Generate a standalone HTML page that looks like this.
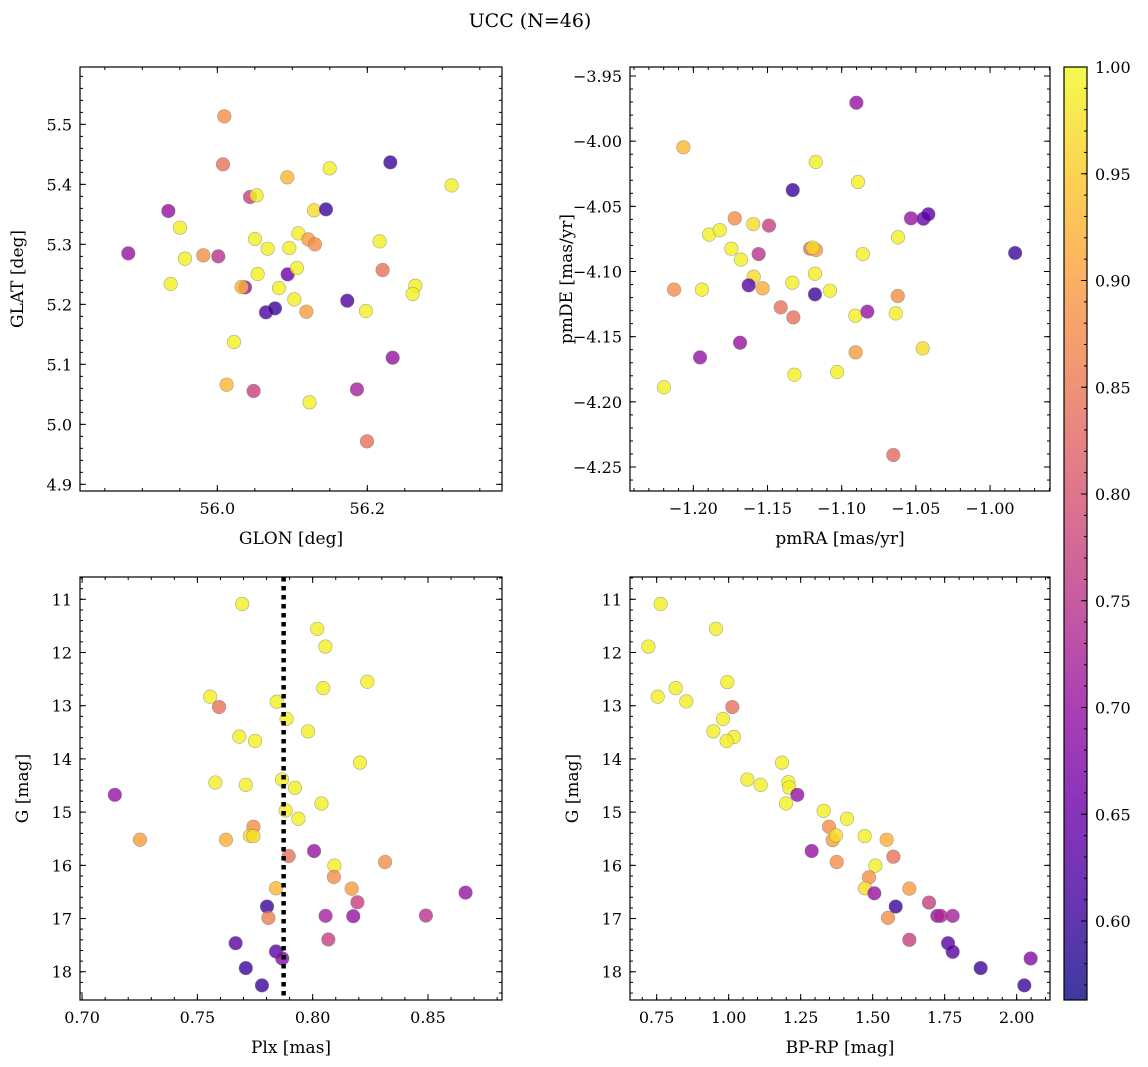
<!DOCTYPE html>
<html><head><meta charset="utf-8"><style>
html,body{margin:0;padding:0;background:#fff;}
svg{display:block;font-family:"DejaVu Serif","Liberation Serif",serif;}
</style></head><body>
<svg id="fig" xmlns="http://www.w3.org/2000/svg" width="1148" height="1067" viewBox="0 0 1148 1067">
<rect width="1148" height="1067" fill="#fff"/>
<text x="530" y="27" font-size="19" text-anchor="middle">UCC (N=46)</text>
<defs><linearGradient id="cbg" x1="0" y1="1" x2="0" y2="0"></linearGradient></defs>
</svg>
<script>
// ---- Panel 1 data: GLON / GLAT ----
const glon=[56.0093,56.0076,56.2307,56.1498,56.0933,56.3124,56.0436,56.0524,55.9347,56.1289,56.1449,55.9502,56.0502,56.108,56.1213,56.1302,56.2164,55.8813,55.9569,55.9813,56.0013,56.0671,56.096,56.0538,56.0938,56.1062,56.2204,55.9378,56.0369,56.0324,56.0822,56.264,56.2604,56.1027,56.1733,56.0649,56.0769,56.1187,56.1982,56.0222,56.2338,56.0124,56.0484,56.1862,56.1231,56.1996];
const glat=[5.5133,5.4333,5.4367,5.4267,5.4117,5.3983,5.3789,5.3817,5.3556,5.3567,5.3583,5.3278,5.3089,5.3183,5.3083,5.3,5.305,5.285,5.2761,5.2817,5.28,5.2928,5.2939,5.2506,5.25,5.2606,5.2572,5.2339,5.2283,5.2289,5.2272,5.2311,5.2172,5.2083,5.2061,5.1867,5.1933,5.1878,5.1889,5.1372,5.1111,5.0661,5.0556,5.0583,5.0367,4.9717];
const prob1=[.88,.84,.60,.99,.93,.99,.77,.99,.70,.97,.60,.99,.99,.99,.90,.88,.99,.70,.99,.88,.75,.99,.99,.99,.65,.99,.84,.99,.70,.93,.99,.99,.99,.99,.62,.62,.60,.90,.99,.99,.70,.93,.77,.72,.99,.84];
// ---- Panel 2 data: pmRA / pmDE ----
const pmra=[-1.0901,-1.2067,-1.1175,-1.089,-1.133,-1.1721,-1.1596,-1.149,-1.1894,-1.1822,-1.0533,-1.0449,-1.0416,-1.062,-1.1744,-1.1679,-1.156,-1.1213,-1.1173,-1.1196,-1.0858,-1.118,-1.1593,-1.1627,-1.1533,-1.1333,-1.213,-1.1942,-1.118,-1.1079,-1.0622,-1.1411,-1.1326,-1.0908,-1.0827,-1.0636,-1.1685,-1.1955,-1.0906,-1.0454,-1.1319,-1.1031,-1.2198,-1.0652,-0.9831];
const pmde=[-3.9705,-4.0047,-4.016,-4.0313,-4.0375,-4.0592,-4.0636,-4.0648,-4.0717,-4.0682,-4.0592,-4.0595,-4.0561,-4.0738,-4.0825,-4.0909,-4.0866,-4.0825,-4.0835,-4.0817,-4.0866,-4.1017,-4.104,-4.1106,-4.1129,-4.1086,-4.1139,-4.1139,-4.1175,-4.1147,-4.1188,-4.1275,-4.1352,-4.1339,-4.1308,-4.1321,-4.1546,-4.1659,-4.162,-4.159,-4.1792,-4.1771,-4.1889,-4.2408,-4.0858];
const prob2=[.70,.93,.99,.99,.60,.88,.97,.77,.99,.99,.70,.65,.63,.99,.99,.99,.75,.84,.90,.97,.99,.99,.97,.63,.92,.99,.88,.99,.60,.99,.88,.84,.84,.99,.70,.99,.70,.70,.90,.97,.99,.99,.99,.83,.60];
// ---- Panel 3 data: Plx / G ----
const plx=[.7694,.802,.8055,.8237,.8046,.7555,.7594,.7844,.7887,.798,.7682,.775,.8205,.7578,.771,.7867,.7923,.7142,.8038,.7883,.7938,.7743,.7728,.7743,.7251,.7624,.8006,.7896,.8314,.8094,.8092,.7841,.8169,.8663,.8194,.7802,.7808,.8056,.8176,.8491,.7666,.8068,.7841,.7868,.771,.778];
const gmag3=[11.088,11.556,11.888,12.55,12.669,12.831,13.025,12.925,13.25,13.481,13.581,13.663,14.069,14.444,14.488,14.388,14.544,14.675,14.838,14.969,15.125,15.275,15.444,15.45,15.519,15.519,15.731,15.825,15.938,16.006,16.219,16.431,16.438,16.513,16.694,16.775,16.988,16.95,16.956,16.944,17.463,17.394,17.619,17.75,17.931,18.256];
const prob3=[.99,.99,.99,.99,.99,.99,.84,.99,.99,.99,.99,.99,.99,.99,.99,.99,.99,.70,.99,.99,.99,.88,.97,.97,.90,.92,.70,.84,.88,.99,.88,.93,.90,.70,.77,.60,.86,.72,.70,.75,.63,.77,.63,.68,.60,.60];
const plxMedian=[0.7874];
// ---- Panel 4 data: BP-RP / G ----
const bprp=[.7639,.956,.7211,.9954,.7535,.816,.853,1.0127,.9803,.9468,1.0185,.993,1.1852,1.0648,1.1111,1.2072,1.2095,1.2384,1.1991,1.3299,1.4109,1.3484,1.3611,1.3727,1.4722,1.5486,1.2882,1.5718,1.375,1.5093,1.4873,1.4734,1.5058,1.6273,1.6956,1.5799,1.7245,1.7361,1.7778,1.5532,1.6273,1.7616,1.7778,2.0486,1.875,2.0266];
const gmag4=[11.088,11.556,11.888,12.556,12.831,12.669,12.919,13.025,13.25,13.481,13.588,13.663,14.069,14.388,14.488,14.438,14.538,14.675,14.838,14.975,15.125,15.275,15.525,15.4375,15.45,15.519,15.731,15.838,15.938,16.006,16.225,16.431,16.525,16.438,16.7,16.775,16.95,16.95,16.95,16.988,17.4,17.463,17.625,17.75,17.931,18.256];
const prob4=[.99,.99,.99,.99,.99,.99,.99,.84,.99,.99,.99,.99,.99,.99,.99,.99,.99,.70,.99,.99,.99,.88,.90,.97,.99,.92,.70,.84,.88,.99,.88,.97,.70,.90,.77,.60,.70,.73,.72,.88,.77,.63,.63,.68,.60,.60];
// ---- tick labels ----
const p1xTicks=[56.0,56.2], p1yTicks=[4.9,5.0,5.1,5.2,5.3,5.4,5.5];
const p2xTicks=[-1.20,-1.15,-1.10,-1.05,-1.00], p2yTicks=[-3.95,-4.00,-4.05,-4.10,-4.15,-4.20,-4.25];
const p3xTicks=[0.70,0.75,0.80,0.85], p3yTicks=[11,12,13,14,15,16,17,18];
const p4xTicks=[0.75,1.00,1.25,1.50,1.75,2.00], p4yTicks=[11,12,13,14,15,16,17,18];
const cbTicks=[0.60,0.65,0.70,0.75,0.80,0.85,0.90,0.95,1.00];
const cMin=0.563, cMax=1.0;

const NS='http://www.w3.org/2000/svg';
const svg=document.getElementById('fig');
function mk(tag,attrs,parent){const e=document.createElementNS(NS,tag);for(const k in attrs)e.setAttribute(k,attrs[k]);(parent||svg).appendChild(e);return e;}
const plasma=[[13,8,135],[65,4,157],[106,0,168],[143,13,164],[177,42,144],[204,71,120],[225,100,98],[242,132,75],[252,166,54],[252,206,37],[240,249,33]];
function cmap(v){let t=(v-cMin)/(cMax-cMin);t=Math.max(0,Math.min(1,t))*10;const i=Math.min(9,Math.floor(t)),f=t-i;const a=plasma[i],b=plasma[i+1];return 'rgb('+a.map((c,k)=>Math.round(c+(b[k]-c)*f)).join(',')+')';}
function fmt(v,d){return (v<0?'\u2212':'')+Math.abs(v).toFixed(d);}

function panel(o){
  const g=mk('g',{});
  
  
  const X=v=>o.x0+(v-o.xmin)/(o.xmax-o.xmin)*(o.x1-o.x0);
  const Y=o.yinv?v=>o.y0+(v-o.ymin)/(o.ymax-o.ymin)*(o.y1-o.y0):v=>o.y1-(v-o.ymin)/(o.ymax-o.ymin)*(o.y1-o.y0);
  const ax=mk('g',{stroke:'#000','stroke-width':1},g);
  
  
  for(let v=Math.ceil(o.xmin/o.xminor-1e-6)*o.xminor;v<=o.xmax;v+=o.xminor){const px=X(v);mk('line',{x1:px,x2:px,y1:o.y1,y2:o.y1-3},ax);mk('line',{x1:px,x2:px,y1:o.y0,y2:o.y0+3},ax);}
  for(let v=Math.ceil(o.ymin/o.yminor-1e-6)*o.yminor;v<=o.ymax;v+=o.yminor){const py=Y(v);mk('line',{x1:o.x0,x2:o.x0+3,y1:py,y2:py},ax);mk('line',{x1:o.x1,x2:o.x1-3,y1:py,y2:py},ax);}
  o.xt.forEach(v=>{const px=X(v);mk('line',{x1:px,x2:px,y1:o.y1,y2:o.y1-6},ax);mk('line',{x1:px,x2:px,y1:o.y0,y2:o.y0+6},ax);
    const t=mk('text',{x:px,y:o.y1+23,'font-size':16,'text-anchor':'middle'},g);t.textContent=fmt(v,o.xd);
    
    });
  o.yt.forEach(v=>{const py=Y(v);mk('line',{x1:o.x0,x2:o.x0+6,y1:py,y2:py},ax);mk('line',{x1:o.x1,x2:o.x1-6,y1:py,y2:py},ax);
    const t=mk('text',{x:o.x0-8,y:py+6,'font-size':16,'text-anchor':'end'},g);t.textContent=fmt(v,o.yd);
    
    });
  const cp='cp'+o.name;const c=mk('clipPath',{id:cp},g);mk('rect',{x:o.x0,y:o.y0,width:o.x1-o.x0,height:o.y1-o.y0},c);
  const pts=mk('g',{'clip-path':'url(#'+cp+')'},g);
  o.xs.forEach((xv,i)=>{const p=mk('circle',{cx:X(xv),cy:Y(o.ys[i]),r:6.8,fill:cmap(o.cs[i]),'fill-opacity':0.8,stroke:'#777','stroke-opacity':0.6,'stroke-width':0.6},pts);
    
    });
  if(o.vline){o.vline.forEach(v=>{const l=mk('line',{x1:X(v),x2:X(v),y1:o.y0,y2:o.y1,stroke:'#000','stroke-width':4.5,'stroke-dasharray':'4.5 4.5'},pts);
    
    });}
  const fr=mk('rect',{x:o.x0,y:o.y0,width:o.x1-o.x0,height:o.y1-o.y0,fill:'none',stroke:'#000','stroke-width':1.2},g);
  
  
  const xl=mk('text',{x:(o.x0+o.x1)/2,y:o.y1+53,'font-size':17,'text-anchor':'middle'},g);xl.textContent=o.xlab;
  
  
  const yx=o.ylx,yy=(o.y0+o.y1)/2;
  const yl=mk('text',{x:yx,y:yy,'font-size':17,'text-anchor':'middle',transform:'rotate(-90 '+yx+' '+yy+')'},g);yl.textContent=o.ylab;
  
  
}
panel({name:'glon-glat-panel',x0:80,x1:502,y0:67,y1:491,xmin:55.8169,xmax:56.3796,ymin:4.8889,ymax:5.5956,xminor:0.05,yminor:0.02,xt:p1xTicks,yt:p1yTicks,xd:1,yd:1,xs:glon,ys:glat,cs:prob1,xlab:'GLON [deg]',ylab:'GLAT [deg]',ylx:23});
panel({name:'pm-panel',x0:630,x1:1050,y0:67,y1:491,xmin:-1.2427,xmax:-0.9596,ymin:-4.2684,ymax:-3.9431,xminor:0.01,yminor:0.01,xt:p2xTicks,yt:p2yTicks,xd:2,yd:2,xs:pmra,ys:pmde,cs:prob2,xlab:'pmRA [mas/yr]',ylab:'pmDE [mas/yr]',ylx:572});
panel({name:'plx-g-panel',x0:80,x1:502,y0:577,y1:1000,xmin:0.6991,xmax:0.8821,ymin:10.581,ymax:18.531,yinv:true,xminor:0.01,yminor:0.2,xt:p3xTicks,yt:p3yTicks,xd:2,yd:0,xs:plx,ys:gmag3,cs:prob3,xlab:'Plx [mas]',ylab:'G [mag]',ylx:28,vline:plxMedian});
panel({name:'cmd-panel',x0:630,x1:1050,y0:577,y1:1000,xmin:0.6574,xmax:2.1157,ymin:10.581,ymax:18.531,yinv:true,xminor:0.05,yminor:0.2,xt:p4xTicks,yt:p4yTicks,xd:2,yd:0,xs:bprp,ys:gmag4,cs:prob4,xlab:'BP-RP [mag]',ylab:'G [mag]',ylx:578});

// colorbar
const grad=document.getElementById('cbg');
for(let i=0;i<=10;i++){mk('stop',{offset:(i*10)+'%','stop-color':'rgb('+plasma[i].join(',')+')'},grad);}
const cb=mk('g',{});


const cx0=1064,cx1=1087,cy0=67,cy1=1000;
const CY=v=>cy1-(v-cMin)/(cMax-cMin)*(cy1-cy0);
mk('rect',{x:cx0,y:cy0,width:cx1-cx0,height:cy1-cy0,fill:'url(#cbg)','fill-opacity':0.8},cb);
mk('rect',{x:cx0,y:cy0,width:cx1-cx0,height:cy1-cy0,fill:'none',stroke:'#000','stroke-width':1.2},cb);
for(let v=0.57;v<=1.0001;v+=0.01){const py=CY(v);mk('line',{x1:cx1,x2:cx1-3,y1:py,y2:py,stroke:'#000'},cb);}
cbTicks.forEach(v=>{const py=CY(v);mk('line',{x1:cx1,x2:cx1-6,y1:py,y2:py,stroke:'#000'},cb);
  const t=mk('text',{x:cx1+8,y:py+6,'font-size':16},cb);t.textContent=v.toFixed(2);
  
  });
</script>
</body></html>
